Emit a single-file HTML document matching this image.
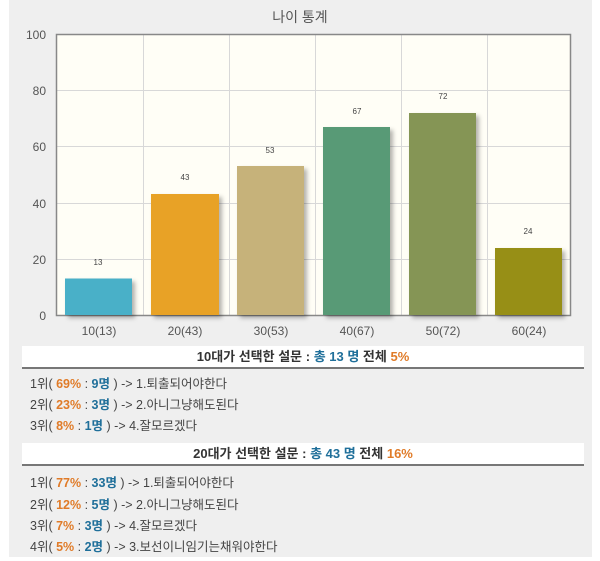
<!DOCTYPE html>
<html><head><meta charset="utf-8"><style>
body{margin:0;width:600px;height:561px;background:#fff;position:relative;overflow:hidden;font-family:"Liberation Sans","Noto Sans CJK KR","NanumGothic",sans-serif}
#bg{position:absolute;left:9px;top:0;width:583px;height:557px;background:#efefef}
.hd{position:absolute;left:22px;width:562px;height:21px;background:#fff;border-bottom:2px solid #777;text-align:center;font-size:13px;font-weight:bold;color:#333;line-height:22px}
.r{position:absolute;left:30px;font-size:12.5px;color:#444}
.o{color:#e07b28;font-weight:bold}.b{color:#1f6f9a;font-weight:bold}
</style></head><body>
<div id="bg"></div>
<svg style="position:absolute;left:0;top:0" width="600" height="340">
<defs><filter id="s" x="-10%" y="-10%" width="130%" height="130%"><feDropShadow dx="3" dy="3" stdDeviation="2" flood-color="#000" flood-opacity="0.3"/></filter></defs>
<text x="300" y="22" text-anchor="middle" font-size="14" fill="#555">나이 통계</text>
<rect x="56" y="34" width="515" height="281" fill="#fffef6"/>
<g stroke="#d8d8d8" stroke-width="1">
<line x1="56" y1="90.5" x2="571" y2="90.5"/><line x1="56" y1="146.5" x2="571" y2="146.5"/><line x1="56" y1="203.5" x2="571" y2="203.5"/><line x1="56" y1="259.5" x2="571" y2="259.5"/>
<line x1="143.5" y1="34" x2="143.5" y2="315"/><line x1="229.5" y1="34" x2="229.5" y2="315"/><line x1="315.5" y1="34" x2="315.5" y2="315"/><line x1="401.5" y1="34" x2="401.5" y2="315"/><line x1="487.5" y1="34" x2="487.5" y2="315"/>
</g>
<rect x="56.5" y="34.5" width="514" height="281" fill="none" stroke="#888" stroke-width="1.5"/>
<g filter="url(#s)">
<rect x="65" y="278.5" width="67" height="36.5" fill="#4ab0c8"/>
<rect x="151" y="194" width="68" height="121" fill="#e8a228"/>
<rect x="237" y="166" width="67" height="149" fill="#c6b27a"/>
<rect x="323" y="127" width="67" height="188" fill="#589a76"/>
<rect x="409" y="113" width="67" height="202" fill="#859555"/>
<rect x="495" y="248" width="67" height="67" fill="#978f14"/>
</g>
<g font-size="8" fill="#444" text-anchor="middle">
<text x="98" y="265">13</text><text x="185" y="180">43</text><text x="270" y="153">53</text><text x="357" y="114">67</text><text x="443" y="99">72</text><text x="528" y="234">24</text>
</g>
<g font-size="12" fill="#555" text-anchor="end">
<text x="46" y="39">100</text><text x="46" y="95">80</text><text x="46" y="151">60</text><text x="46" y="208">40</text><text x="46" y="264">20</text><text x="46" y="320">0</text>
</g>
<g font-size="12" fill="#555" text-anchor="middle">
<text x="99" y="335">10(13)</text><text x="185" y="335">20(43)</text><text x="271" y="335">30(53)</text><text x="357" y="335">40(67)</text><text x="443" y="335">50(72)</text><text x="529" y="335">60(24)</text>
</g>
</svg>
<div class="hd" style="top:346px">10대가 선택한 설문 : <span class="b">총 13 명</span> 전체 <span class="o">5%</span></div>
<div class="r" style="top:373px">1위( <span class="o">69%</span> : <span class="b">9명</span> ) -&gt; 1.퇴출되어야한다</div>
<div class="r" style="top:394px">2위( <span class="o">23%</span> : <span class="b">3명</span> ) -&gt; 2.아니그냥해도된다</div>
<div class="r" style="top:415px">3위( <span class="o">8%</span> : <span class="b">1명</span> ) -&gt; 4.잘모르겠다</div>
<div class="hd" style="top:443px">20대가 선택한 설문 : <span class="b">총 43 명</span> 전체 <span class="o">16%</span></div>
<div class="r" style="top:472px">1위( <span class="o">77%</span> : <span class="b">33명</span> ) -&gt; 1.퇴출되어야한다</div>
<div class="r" style="top:494px">2위( <span class="o">12%</span> : <span class="b">5명</span> ) -&gt; 2.아니그냥해도된다</div>
<div class="r" style="top:515px">3위( <span class="o">7%</span> : <span class="b">3명</span> ) -&gt; 4.잘모르겠다</div>
<div class="r" style="top:536px">4위( <span class="o">5%</span> : <span class="b">2명</span> ) -&gt; 3.보선이니임기는채워야한다</div>
</body></html>
